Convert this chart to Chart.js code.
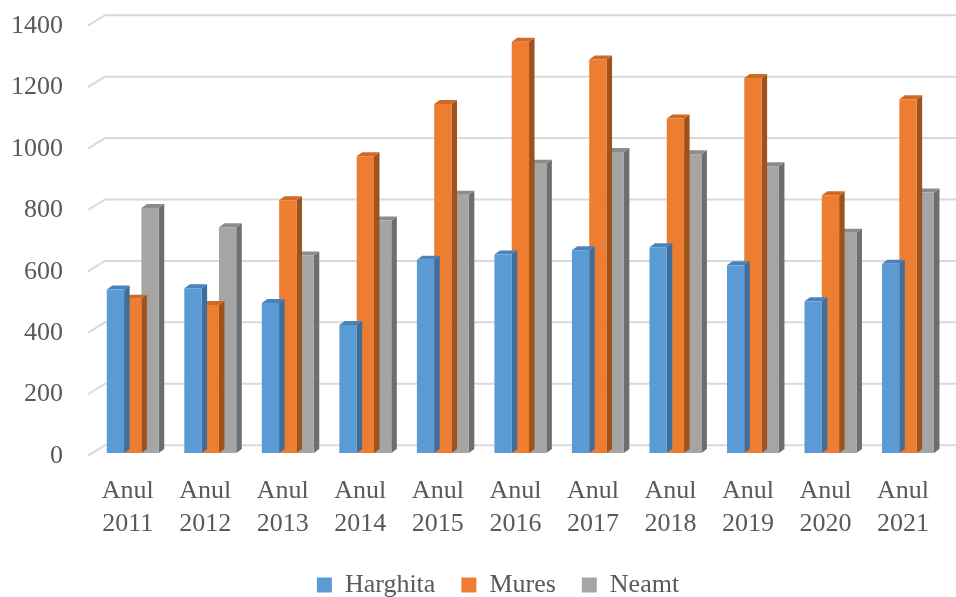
<!DOCTYPE html>
<html>
<head>
<meta charset="utf-8">
<script src="https://cdn.jsdelivr.net/npm/chart.js@4.4.0/dist/chart.umd.min.js"></script>
<style>
html,body{margin:0;padding:0;background:#fff;}
#wrap{width:956px;height:597px;position:relative;}
</style>
</head>
<body>
<div id="wrap"><canvas id="c" width="956" height="597"></canvas></div>
<script>
const categories = [
  ['Anul','2011'],['Anul','2012'],['Anul','2013'],['Anul','2014'],['Anul','2015'],['Anul','2016'],
  ['Anul','2017'],['Anul','2018'],['Anul','2019'],['Anul','2020'],['Anul','2021']
];
const harghita = [532, 536, 488, 417, 629, 646, 660, 670, 611, 494, 616];
const mures    = [502, 482, 823, 966, 1136, 1339, 1281, 1089, 1221, 839, 1152];
const neamt    = [798, 735, 643, 757, 841, 942, 980, 973, 934, 717, 848];
const seriesNames = ['Harghita', 'Mures', 'Neamt'];
const yTicks = [0, 200, 400, 600, 800, 1000, 1200, 1400];

const FRONT = ['#5B9BD5', '#ED7D31', '#A5A5A5'];
const TOP   = ['#4A83B9', '#CF6A25', '#8C8C8C'];
const SIDE  = ['#3F6E9C', '#A0521C', '#6E6E6E'];
const BAR_DX = 5.5, BAR_DY = 4;
const FLOOR_DX = 17, FLOOR_DY = 10.5, FLOOR_FRONT = 2.7;

const FONT = "'Liberation Serif', 'DejaVu Serif', serif";
Chart.defaults.font.family = FONT;
Chart.defaults.color = '#595959';

const threeD = {
  id: 'threeD',
  afterLayout(chart) {
    if (chart.legend) { chart.legend.left += 20; chart.legend.right += 20; }
  },
  beforeDatasetsDraw(chart) {
    const ctx = chart.ctx, y = chart.scales.y, area = chart.chartArea;
    ctx.save();
    ctx.strokeStyle = '#D9D9D9';
    ctx.lineWidth = 2;
    yTicks.forEach(v => {
      const py = y.getPixelForValue(v) + FLOOR_FRONT;
      const x0 = area.left - 6;
      ctx.beginPath();
      ctx.moveTo(x0, py);
      ctx.lineTo(x0 + FLOOR_DX, py - FLOOR_DY);
      ctx.lineTo(chart.width, py - FLOOR_DY);
      ctx.stroke();
    });
    ctx.restore();
  },
  beforeDatasetDraw(chart, args) {
    const ctx = chart.ctx;
    const meta = chart.getDatasetMeta(args.index);
    const i = args.index;
    ctx.save();
    meta.data.forEach(bar => {
      const w = bar.width, l = bar.x - w / 2, r = bar.x + w / 2, t = bar.y, b = bar.base;
      ctx.fillStyle = SIDE[i];
      ctx.beginPath();
      ctx.moveTo(r, b);
      ctx.lineTo(r + BAR_DX, b - BAR_DY);
      ctx.lineTo(r + BAR_DX, t - BAR_DY);
      ctx.lineTo(r, t);
      ctx.closePath();
      ctx.fill();
      ctx.fillStyle = TOP[i];
      ctx.beginPath();
      ctx.moveTo(l, t);
      ctx.lineTo(l + BAR_DX, t - BAR_DY);
      ctx.lineTo(r + BAR_DX, t - BAR_DY);
      ctx.lineTo(r, t);
      ctx.closePath();
      ctx.fill();
    });
    ctx.restore();
  }
};

const datasets = [harghita, mures, neamt].map((d, i) => ({
  label: seriesNames[i],
  data: d,
  backgroundColor: FRONT[i],
  borderWidth: 0,
  categoryPercentage: 0.67,
  barPercentage: 1.0
}));

new Chart(document.getElementById('c'), {
  type: 'bar',
  data: { labels: categories, datasets },
  plugins: [threeD],
  options: {
    responsive: false,
    animation: false,
    events: [],
    layout: { padding: { top: 23, right: 0, left: 0, bottom: -11 } },
    plugins: {
      tooltip: { enabled: false },
      legend: {
        position: 'bottom',
        labels: {
          font: { family: FONT, size: 26 },
          color: '#595959',
          boxWidth: 15,
          boxHeight: 15,
          padding: 26
        }
      }
    },
    scales: {
      x: {
        grid: { display: false, drawTicks: false },
        border: { display: false },
        ticks: {
          font: { family: FONT, size: 26, lineHeight: 1.25 },
          color: '#595959',
          maxRotation: 0,
          autoSkip: false,
          padding: 22,
          labelOffset: -5
        },
        afterFit: s => { s.height = s.height - 16; }
      },
      y: {
        min: 0,
        max: 1400,
        afterBuildTicks: s => { s.ticks = yTicks.map(v => ({ value: v })); },
        grid: { display: false, drawTicks: false },
        border: { display: false },
        ticks: {
          font: { family: FONT, size: 26 },
          color: '#595959',
          padding: 31,
          labelOffset: 3,
          callback: v => String(v)
        },
        afterFit: s => { s.width = 94; s.paddingTop = 0; s.paddingBottom = 0; }
      }
    }
  }
});
</script>
</body>
</html>
